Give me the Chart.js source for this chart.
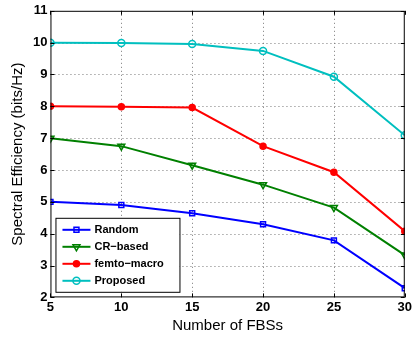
<!DOCTYPE html>
<html>
<head>
<meta charset="utf-8">
<script src="https://cdn.jsdelivr.net/npm/chart.js@4/dist/chart.umd.min.js"></script>
<style>
  html, body { margin: 0; padding: 0; background: #fff; }
  #wrap { width: 414px; height: 337px; position: relative; }
</style>
</head>
<body>
<div id="wrap"><canvas id="chart"></canvas></div>
<script>
// --- Data ---
const fbsCounts = [5, 10, 15, 20, 25, 30];
const randomSE = [5.0, 4.9, 4.64, 4.30, 3.79, 2.29];
const crBasedSE = [7.0, 6.75, 6.15, 5.54, 4.82, 3.33];
const femtoMacroSE = [8.0, 7.99, 7.96, 6.75, 5.93, 4.08];
const proposedSE = [10.0, 9.99, 9.96, 9.74, 8.93, 7.09];
const yTicks = [2, 3, 4, 5, 6, 7, 8, 9, 10, 11];

const FONT = '"Liberation Sans", Arial, Helvetica, sans-serif';

function series(label, values, color, pointStyle, filled, radius, rotation) {
  return {
    label,
    data: fbsCounts.map((x, i) => ({ x, y: values[i] })),
    borderColor: color,
    backgroundColor: filled ? color : 'rgba(0,0,0,0)',
    pointBorderColor: color,
    pointBackgroundColor: filled ? color : 'rgba(0,0,0,0)',
    pointStyle,
    pointRotation: rotation || 0,
    pointRadius: radius,
    pointBorderWidth: 1.5,
    borderWidth: 2,
    tension: 0
  };
}

// --- Dotted grid, frame, inner ticks and in-plot legend (MATLAB look) ---
const matlabFrame = {
  id: 'matlabFrame',
  beforeDatasetsDraw(chart) {
    const { ctx, chartArea: a, scales } = chart;
    ctx.save();
    ctx.strokeStyle = '#777';
    ctx.lineWidth = 1;
    ctx.setLineDash([1, 3]);
    ctx.beginPath();
    fbsCounts.slice(1, -1).forEach(v => {
      const x = Math.round(scales.x.getPixelForValue(v)) + 0.5;
      ctx.moveTo(x, a.top); ctx.lineTo(x, a.bottom);
    });
    yTicks.slice(1, -1).forEach(v => {
      const y = Math.round(scales.y.getPixelForValue(v)) + 0.5;
      ctx.moveTo(a.left, y); ctx.lineTo(a.right, y);
    });
    ctx.stroke();
    ctx.restore();
  },
  afterDraw(chart) {
    const { ctx, chartArea: a, scales } = chart;
    ctx.save();
    ctx.strokeStyle = '#000';
    ctx.lineWidth = 1;
    ctx.setLineDash([]);
    ctx.strokeRect(a.left + 0.5, a.top + 0.5, a.right - a.left - 1, a.bottom - a.top - 1);

    // inward tick marks
    const tl = 4;
    ctx.beginPath();
    fbsCounts.forEach(v => {
      const x = Math.round(scales.x.getPixelForValue(v)) + 0.5;
      ctx.moveTo(x, a.bottom); ctx.lineTo(x, a.bottom - tl);
      ctx.moveTo(x, a.top); ctx.lineTo(x, a.top + tl);
    });
    yTicks.forEach(v => {
      const y = Math.round(scales.y.getPixelForValue(v)) + 0.5;
      ctx.moveTo(a.left, y); ctx.lineTo(a.left + tl, y);
      ctx.moveTo(a.right, y); ctx.lineTo(a.right - tl, y);
    });
    ctx.stroke();

    // legend box
    const bx = a.left + 5, by = a.top + 207, bw = 124, bh = 74;
    ctx.fillStyle = '#fff';
    ctx.fillRect(bx, by, bw, bh);
    ctx.lineWidth = 1;
    ctx.strokeRect(bx + 0.5, by + 0.5, bw, bh);
    ctx.font = 'bold 11px ' + FONT;
    ctx.textBaseline = 'middle';
    chart.data.datasets.forEach((ds, i) => {
      const y = by + 12 + i * 17;
      ctx.strokeStyle = ds.borderColor;
      ctx.lineWidth = 2;
      ctx.beginPath();
      ctx.moveTo(bx + 7, y); ctx.lineTo(bx + 35, y);
      ctx.stroke();
      ctx.lineWidth = ds.pointBorderWidth;
      ctx.fillStyle = ds.pointBackgroundColor;
      Chart.helpers.drawPoint(ctx, {
        pointStyle: ds.pointStyle,
        rotation: ds.pointRotation,
        radius: ds.pointRadius,
        borderWidth: ds.pointBorderWidth
      }, bx + 21, y);
      ctx.fillStyle = '#000';
      ctx.fillText(ds.label, bx + 39, y + 0.5);
    });
    ctx.restore();
  }
};

new Chart(document.getElementById('chart'), {
  type: 'line',
  data: {
    datasets: [
      series('Random', randomSE, '#0000ff', 'rect', false, 3.5),
      series('CR\u2212based', crBasedSE, '#008000', 'triangle', false, 4, 180),
      series('femto\u2212macro', femtoMacroSE, '#ff0000', 'circle', true, 3),
      series('Proposed', proposedSE, '#00bfbf', 'circle', false, 3.5)
    ]
  },
  options: {
    responsive: true,
    maintainAspectRatio: false,
    animation: false,
    layout: { padding: { left: 9, right: 7, top: 8, bottom: 2 } },
    plugins: { legend: { display: false }, tooltip: { enabled: false } },
    scales: {
      x: {
        type: 'linear',
        min: 5, max: 30,
        afterBuildTicks: s => { s.ticks = fbsCounts.map(v => ({ value: v })); },
        ticks: { color: '#000', font: { family: FONT, size: 13, weight: 'bold' }, padding: 2, maxRotation: 0 },
        grid: { display: false, drawTicks: false },
        border: { display: false },
        title: { display: true, text: 'Number of FBSs', color: '#000', font: { family: FONT, size: 15 }, padding: { top: 0, bottom: 0 } }
      },
      y: {
        min: 2, max: 11,
        afterBuildTicks: s => { s.ticks = yTicks.map(v => ({ value: v })); },
        ticks: { color: '#000', font: { family: FONT, size: 13, weight: 'bold' }, padding: 3 },
        grid: { display: false, drawTicks: false },
        border: { display: false },
        title: { display: true, text: 'Spectral Efficiency (bits/Hz)', color: '#000', font: { family: FONT, size: 15 }, padding: { top: 0, bottom: 3 } }
      }
    }
  },
  plugins: [matlabFrame]
});
</script>
</body>
</html>
